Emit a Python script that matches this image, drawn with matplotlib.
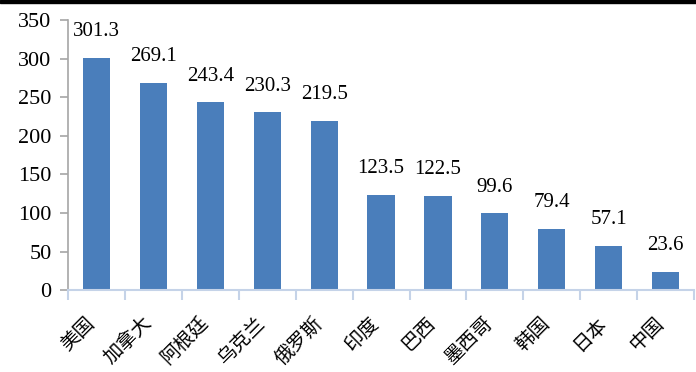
import numpy as np
import matplotlib.pyplot as plt
from matplotlib.patches import Rectangle
from matplotlib.transforms import ScaledTranslation

countries = ['美国', '加拿大', '阿根廷', '乌克兰', '俄罗斯', '印度', '巴西', '墨西哥', '韩国', '日本', '中国']
values = [301.3, 269.1, 243.4, 230.3, 219.5, 123.5, 122.5, 99.6, 79.4, 57.1, 23.6]

plt.rcParams['font.family'] = ['Liberation Serif', 'Noto Sans CJK SC']

fig = plt.figure(figsize=(6.96, 3.72), dpi=100)
ax = fig.add_axes([0.098, 0.22, 0.899, 0.726])

x = np.arange(len(countries))
ax.bar(x, values, width=0.48, color='#4a7ebb')
for xi, v in zip(x, values):
    ax.annotate(f'{v:.1f}', (xi, v), xytext=(0, 12), textcoords='offset points',
                ha='center', va='bottom', fontsize=15)

ax.set_xlim(-0.5, len(countries) - 0.5)
ax.set_ylim(0, 350)
ax.set_yticks(np.arange(0, 351, 50))
ax.tick_params(axis='y', labelsize=16, color='#a6a6a6', length=6, width=1.2, pad=6)

ax.set_xticks(x)
ax.set_xticklabels(countries, rotation=45, ha='right', va='top', rotation_mode='anchor',
                   fontsize=14, family=['Noto Sans CJK SC'])
ax.tick_params(axis='x', which='major', length=0, pad=15)
shift = ScaledTranslation(-9 / 72, -1 / 72, fig.dpi_scale_trans)
for lab in ax.get_xticklabels():
    lab.set_transform(lab.get_transform() + shift)
ax.set_xticks(np.arange(-0.5, len(countries), 1), minor=True)
ax.tick_params(axis='x', which='minor', length=7, color='#c5d3e8', width=1.5)

for s in ['top', 'right']:
    ax.spines[s].set_visible(False)
ax.spines['left'].set_color('#a6a6a6')
ax.spines['left'].set_linewidth(1.2)
ax.spines['bottom'].set_color('#c5d3e8')
ax.spines['bottom'].set_linewidth(1.5)

# black strip along the top edge
fig.patches.append(Rectangle((0, 0.992), 1, 0.008, transform=fig.transFigure, color='black'))

fig.savefig('out.png', dpi=100)
